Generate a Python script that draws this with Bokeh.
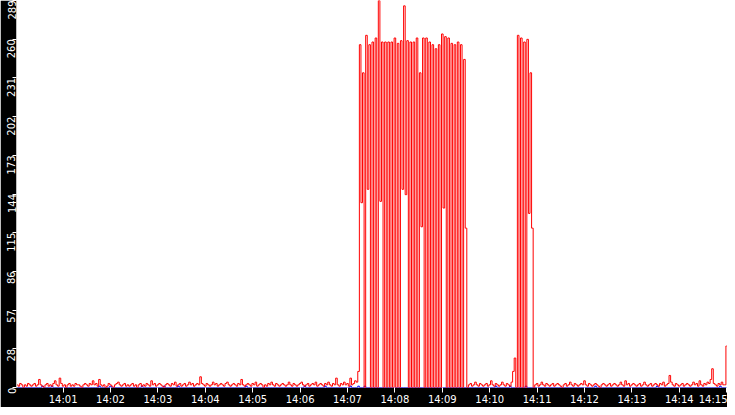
import math
import numpy as np
import pandas as pd
from bokeh.plotting import figure
from bokeh.models import Range1d, FixedTicker, DatetimeTickFormatter, PrintfTickFormatter
from bokeh.embed import file_html
from bokeh.resources import INLINE

# ---------------- data ----------------
DAY = "2024-01-01 "
SAMPLE_START = "14:00:02"      # first sample
SAMPLE_STEP_S = 2              # seconds between samples
X_START = "14:00:01"
X_END = "14:15:01"
Y_MAX = 289

y_tick_labels = ["0", "28", "57", "86", "115", "144", "173", "202", "231", "260", "289"]
x_tick_labels = ["14:01", "14:02", "14:03", "14:04", "14:05", "14:06", "14:07", "14:08",
                 "14:09", "14:10", "14:11", "14:12", "14:13", "14:14", "14:15"]

# red series, split in quiet / burst stretches
red_quiet_1 = [
    2, 1, 3, 2, 0, 2, 1, 3, 2, 1, 2, 3, 1, 2, 6, 2, 1, 0, 2, 3, 1, 2, 1, 3,
    5, 2, 1, 7, 3, 1, 2, 0, 2, 3, 1, 2, 1, 3, 2, 2, 1, 0, 2, 3, 2, 1, 3, 2,
    5, 2, 3, 1, 6, 2, 1, 2, 0, 1, 3, 2, 1, 0, 2, 3, 4, 2, 1, 2, 3, 1, 2, 1,
    2, 3, 1, 2, 0, 2, 3, 1, 2, 1, 3, 2, 1, 5, 2, 3, 1, 2, 3, 2, 1, 0, 2, 3,
    2, 1, 3, 2, 4, 1, 2, 3, 1, 2, 3, 1, 2, 4, 2, 3, 1, 2, 3, 2, 8, 3, 2, 1,
    3, 2, 1, 2, 4, 2, 3, 1, 2, 3, 2, 1, 3, 4, 2, 1, 2, 3, 2, 1, 3, 2, 6, 2,
    1, 2, 3, 2, 1, 3, 2, 4, 1, 2, 3, 2, 0, 2, 1, 3, 2, 4, 2, 1, 3, 2, 1, 2,
    3, 2, 1, 2, 4, 2, 1, 3, 2, 1, 2, 3, 4, 2, 1, 2, 3, 1, 2, 3, 2, 4, 1, 2,
    3, 2, 1, 3, 2, 4, 2, 1, 3, 2, 7, 2, 1, 3, 2, 4, 2, 3, 1, 7, 2, 3, 5, 4,
]
red_burst_1 = [
    12, 256, 138, 235, 0, 263, 148, 256, 0, 258, 0, 261, 0, 289, 139, 258,
    0, 258, 0, 258, 0, 258, 0, 261, 0, 257, 0, 259, 148, 285, 144, 259,
    0, 258, 0, 258, 0, 261, 0, 235, 120, 261, 0, 261, 0, 258, 0, 256,
    0, 253, 0, 256, 0, 264, 134, 262, 0, 261, 0, 257, 0, 256, 0, 258,
    0, 256, 0, 245, 119, 0,
]
red_quiet_2 = [
    2, 3, 1, 2, 4, 2, 1, 3, 2, 1, 2, 3, 1, 2, 5, 2, 1, 3, 2, 1, 2, 4, 2, 1,
    3, 2, 1, 4, 12,
]
red_burst_2 = [22, 0, 263, 0, 261, 0, 258, 0, 260, 130, 235, 119, 0]
red_quiet_3 = [
    2, 3, 1, 2, 4, 2, 1, 3, 2, 1, 2, 3, 1, 2, 3, 2, 1, 0, 2, 3, 1, 2, 4, 2,
    1, 3, 2, 1, 2, 3, 2, 5, 2, 1, 3, 2, 1, 2, 3, 2, 1, 0, 2, 3, 2, 1, 2, 3,
    1, 2, 3, 2, 1, 2, 4, 2, 1, 5, 2, 3, 1, 2, 3, 2, 1, 2, 3, 1, 2, 4, 2, 1,
    2, 3, 1, 2, 3, 2, 1, 3, 2, 4, 1, 2, 3, 9, 4, 2, 1, 3, 2, 1, 2, 3, 1, 2,
    3, 2, 1, 2, 4, 2, 3, 1, 5, 2, 1, 3, 2, 4, 3, 6, 14, 3, 2, 1, 3, 2, 4, 2,
    2, 31,
]

# blue series: at 0 except short blips (sample index, value)
blue_blip_index = [16, 22, 52, 59, 79, 93, 102, 145, 182, 195, 211, 216, 220,
                   303, 312, 322, 366, 405, 445]
blue_blip_value = [1, 1, 1, 1, 1, 1, 1, 1, 1, 1, 1, 1, 1, 1, 1, 1, 1, 1, 1]

# ---------------- build ----------------
red = np.array(red_quiet_1 + red_burst_1 + red_quiet_2 + red_burst_2 + red_quiet_3, dtype=float)
t0 = pd.Timestamp(DAY + SAMPLE_START)
times = t0 + pd.to_timedelta(np.arange(len(red)) * SAMPLE_STEP_S, unit="s")
blue = np.zeros(len(red))
blue[blue_blip_index] = blue_blip_value

x_ticks_dt = [pd.Timestamp(DAY + lab) for lab in x_tick_labels]
x_ticks_ms = [float(ts.value // 10**6) for ts in x_ticks_dt]
y_ticks = [Y_MAX * k / (len(y_tick_labels) - 1) for k in range(len(y_tick_labels))]

p = figure(width=727, height=407, x_axis_type="datetime",
           x_range=Range1d(pd.Timestamp(DAY + X_START), pd.Timestamp(DAY + X_END)),
           y_range=Range1d(0, Y_MAX),
           output_backend="svg", toolbar_location=None,
           min_border=0, border_fill_color="black",
           background_fill_color="white", outline_line_color=None)
p.grid.visible = False

p.step(times, blue, line_color="#0000ff", line_width=1, mode="center")
p.step(times, red, line_color="#ff0000", line_width=1, mode="center")

FONT = "DejaVu Sans"
for ax in (p.xaxis[0], p.yaxis[0]):
    ax.axis_line_color = None
    ax.major_tick_line_color = "white"
    ax.minor_tick_line_color = None
    ax.major_tick_in = 0
    ax.major_label_text_color = "white"
    ax.major_label_text_font = FONT
    ax.major_label_text_font_size = "10px"
    ax.major_label_standoff = 1

p.xaxis[0].major_tick_out = 5
p.yaxis[0].major_tick_out = 4

p.xaxis[0].ticker = FixedTicker(ticks=x_ticks_ms)
p.xaxis[0].formatter = DatetimeTickFormatter(
    seconds="%H:%M", minsec="%H:%M", minutes="%H:%M", hourmin="%H:%M", hours="%H:%M")
p.xaxis[0].major_label_overrides = dict(zip(x_ticks_ms, x_tick_labels))

p.yaxis[0].ticker = FixedTicker(ticks=y_ticks)
p.yaxis[0].formatter = PrintfTickFormatter(format="%d")
p.yaxis[0].major_label_overrides = dict(zip(y_ticks, y_tick_labels))
p.yaxis[0].major_label_orientation = math.pi / 2

open("out.html", "w").write(file_html(p, INLINE))
